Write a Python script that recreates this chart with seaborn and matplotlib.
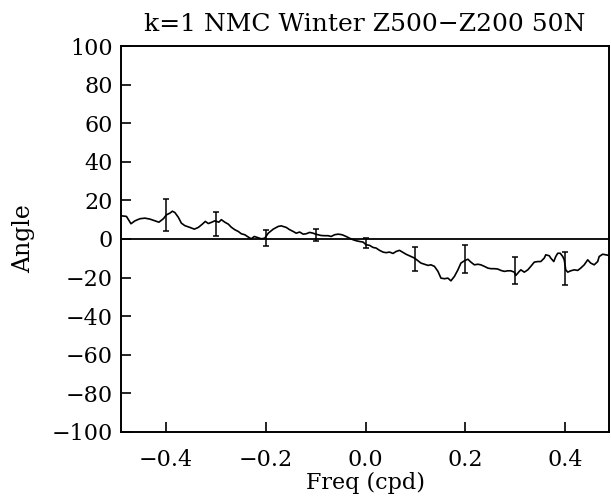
import numpy as np
import pandas as pd
import matplotlib
matplotlib.use("Agg")
import matplotlib.pyplot as plt
import seaborn as sns

# curve
freq = [-0.489, -0.479, -0.470, -0.462, -0.452, -0.442, -0.432, -0.422, -0.414, -0.405,
        -0.399, -0.392, -0.387, -0.382, -0.375, -0.369, -0.362, -0.352, -0.343, -0.335,
        -0.327, -0.321, -0.315, -0.309, -0.302, -0.294, -0.289, -0.282, -0.275, -0.269,
        -0.262, -0.255, -0.249, -0.242, -0.235, -0.229, -0.223, -0.217, -0.209, -0.202,
        -0.195, -0.185, -0.175, -0.169, -0.159, -0.152, -0.145, -0.139, -0.132, -0.125,
        -0.119, -0.112, -0.105, -0.100, -0.095, -0.089, -0.082, -0.075, -0.069, -0.062,
        -0.055, -0.047, -0.039, -0.032, -0.025, -0.019, -0.012, -0.005, 0.001, 0.008,
        0.015, 0.021, 0.028, 0.035, 0.041, 0.048, 0.055, 0.061, 0.068, 0.075,
        0.081, 0.088, 0.098, 0.105, 0.111, 0.118, 0.125, 0.131, 0.138, 0.145,
        0.151, 0.158, 0.165, 0.171, 0.178, 0.185, 0.191, 0.198, 0.205, 0.211,
        0.218, 0.225, 0.231, 0.238, 0.245, 0.251, 0.258, 0.265, 0.271, 0.278,
        0.285, 0.291, 0.298, 0.301, 0.308, 0.311, 0.318, 0.325, 0.331, 0.338,
        0.345, 0.351, 0.358, 0.361, 0.368, 0.371, 0.377, 0.381, 0.385, 0.390,
        0.395, 0.398, 0.401, 0.405, 0.411, 0.418, 0.425, 0.431, 0.438, 0.445,
        0.451, 0.458, 0.465, 0.468, 0.475, 0.481, 0.487]
angle = [12.0, 11.7, 7.9, 9.4, 10.5, 10.8, 10.3, 9.4, 8.7, 10.5,
         12.5, 13.4, 14.4, 13.7, 11.2, 8.2, 6.9, 6.0, 5.1, 6.0,
         7.7, 9.1, 8.0, 8.6, 9.4, 8.7, 10.0, 8.7, 7.7, 6.1,
         4.8, 3.9, 2.7, 2.2, 1.0, 0.1, 1.3, 0.8, 0.1, 0.4,
         3.0, 5.1, 6.5, 6.8, 6.0, 4.8, 3.9, 3.0, 3.6, 2.5,
         2.7, 3.4, 3.0, 2.5, 2.2, 1.8, 1.7, 1.7, 1.3, 2.2,
         2.5, 2.2, 1.3, 0.4, -0.4, -0.9, -1.3, -1.6, -3.0, -3.3,
         -4.4, -4.7, -5.9, -6.8, -7.1, -6.8, -7.5, -6.5, -5.9, -7.0,
         -7.9, -8.7, -9.9, -11.3, -12.5, -13.1, -13.7, -13.4, -14.2, -16.8,
         -20.3, -20.6, -20.3, -21.7, -19.4, -16.0, -12.5, -11.3, -10.5, -12.0,
         -13.4, -13.1, -13.4, -14.2, -15.1, -15.4, -15.4, -15.6, -16.3, -16.8,
         -16.5, -16.5, -17.2, -18.9, -16.8, -16.0, -17.2, -16.0, -14.2, -12.0,
         -11.7, -11.7, -9.9, -8.2, -8.7, -9.9, -11.7, -9.1, -7.4, -7.4,
         -9.1, -10.8, -16.0, -17.2, -16.5, -16.0, -16.3, -15.1, -13.4, -10.8,
         -12.5, -13.4, -11.7, -9.1, -7.9, -8.2, -8.5]

# error bars (lower, upper)
bar_freq = [-0.4, -0.3, -0.2, -0.1, 0.0, 0.1, 0.2, 0.3, 0.4]
bar_lo = [4.0, 1.8, -3.9, -1.3, -4.7, -16.5, -17.4, -23.4, -23.8]
bar_hi = [20.8, 14.2, 4.4, 5.3, 0.4, -4.4, -3.0, -9.4, -7.0]

df = pd.DataFrame({"Freq": freq, "Angle": angle})

sns.set_style("ticks")
plt.rcParams["font.family"] = ["DejaVu Serif"]
plt.rcParams["text.color"] = "black"
plt.rcParams["axes.labelcolor"] = "black"
plt.rcParams["xtick.color"] = "black"
plt.rcParams["ytick.color"] = "black"

fig = plt.figure(figsize=(6.11, 5.01), dpi=100)
ax = fig.add_axes([0.198, 0.138, 0.799, 0.770])

ax.axhline(0, color="black", linewidth=1.3, zorder=1)
sns.lineplot(x="Freq", y="Angle", data=df, ax=ax, color="black",
             linewidth=1.2, estimator=None, sort=False, zorder=2)

mid = [(a + b) / 2 for a, b in zip(bar_lo, bar_hi)]
err = [(b - a) / 2 for a, b in zip(bar_lo, bar_hi)]
ax.errorbar(bar_freq, mid, yerr=err, fmt="none", ecolor="black",
            elinewidth=1.1, capsize=2.2, capthick=1.1, zorder=3)

ax.set_xlim(-0.49, 0.488)
ax.set_ylim(-100, 100)
ax.set_xticks([-0.4, -0.2, 0.0, 0.2, 0.4])
ax.set_xticklabels(["\u22120.4", "\u22120.2", "0.0", "0.2", "0.4"])
ax.set_yticks(np.arange(-100, 101, 20))
ax.set_yticklabels([("\u2212" + str(-v)) if v < 0 else str(v)
                    for v in range(-100, 101, 20)])
ax.tick_params(direction="in", length=7, width=1.2, labelsize=16,
               top=False, right=False)
ax.tick_params(axis="x", pad=12)
ax.tick_params(axis="y", pad=6)
for s in ax.spines.values():
    s.set_linewidth(1.4)
    s.set_color("black")

ax.set_title("k=1 NMC Winter Z500\u2212Z200 50N", fontsize=18, pad=11)
ax.set_xlabel("Freq (cpd)", fontsize=16, labelpad=1)
ax.set_ylabel("Angle", fontsize=17, labelpad=12)

plt.savefig("out.png", dpi=100)
